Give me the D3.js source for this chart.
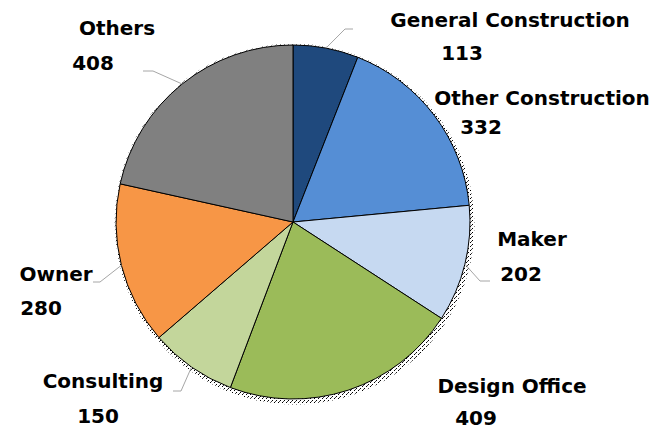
<!DOCTYPE html>
<html lang="en">
<head>
    <meta charset="UTF-8">
    <title>Pie</title>
    <style>
        body { margin: 0; padding: 0; background: #fff; }
        svg { display: block; }
        .lbl { font-family: "DejaVu Sans", Verdana, sans-serif; font-weight: bold; font-size: 20px; fill: #000; }
    </style>
</head>
<body>
    <svg id="chart"></svg>
    <script src="https://d3js.org/d3.v7.min.js"></script>
    <script>
        // data
        const categories = ['General Construction', 'Other Construction', 'Maker', 'Design Office', 'Consulting', 'Owner', 'Others'];
        const counts = [113, 332, 202, 409, 150, 280, 408];
        const colors = ['#1F497D', '#558ED5', '#C6D9F1', '#9BBB59', '#C3D69B', '#F79646', '#808080'];

        // label layout: [name x, name y, value x, value y], elbow points of leader lines
        const labelPos = [
            [510, 27, 462, 60],
            [542, 105, 481, 134],
            [532, 246, 521, 281],
            [512, 393, 476, 425],
            [103, 388, 98, 423],
            [56, 281, 41, 315],
            [117, 35, 93, 70]
        ];
        const leaderElbow = [
            [[345, 29], [353, 29]],
            null,
            [[480, 281], [490, 281]],
            null,
            [[181, 391], [173, 391]],
            [[100, 282], [93, 282]],
            [[153, 71], [143, 71]]
        ];

        const width = 666, height = 429;
        const cx = 293, cy = 222, r = 177;

        const svg = d3.select('#chart').attr('width', width).attr('height', height);

        // stippled shadow
        const defs = svg.append('defs');
        const pat = defs.append('pattern').attr('id', 'dots')
            .attr('width', 4).attr('height', 4).attr('patternUnits', 'userSpaceOnUse');
        pat.append('rect').attr('x', 0).attr('y', 0).attr('width', 1).attr('height', 1).attr('fill', '#000');
        pat.append('rect').attr('x', 2).attr('y', 2).attr('width', 1).attr('height', 1).attr('fill', '#000');
        pat.append('rect').attr('x', 3).attr('y', 1).attr('width', 1).attr('height', 1).attr('fill', '#444');

        svg.append('circle').attr('cx', cx + 2).attr('cy', cy + 3).attr('r', r + 2.5)
            .attr('fill', 'url(#dots)');
        svg.append('circle').attr('cx', cx).attr('cy', cy).attr('r', r + 1.5)
            .attr('fill', 'url(#dots)').attr('opacity', 0.5);

        const pie = d3.pie().sort(null).value(d => d);
        const arcs = pie(counts);
        const arc = d3.arc().innerRadius(0).outerRadius(r);

        const g = svg.append('g').attr('transform', `translate(${cx},${cy})`);
        g.selectAll('path')
            .data(arcs)
            .enter()
            .append('path')
            .attr('d', arc)
            .attr('fill', (d, i) => colors[i])
            .attr('stroke', '#000')
            .attr('stroke-width', 1);

        // leader lines from the slice edge
        arcs.forEach((d, i) => {
            if (!leaderElbow[i]) return;
            const a = (d.startAngle + d.endAngle) / 2;
            const p0 = [cx + r * Math.sin(a), cy - r * Math.cos(a)];
            svg.append('path')
                .attr('d', d3.line()([p0].concat(leaderElbow[i])))
                .attr('fill', 'none')
                .attr('stroke', '#A6A6A6')
                .attr('stroke-width', 1);
        });

        // labels
        categories.forEach((c, i) => {
            const p = labelPos[i];
            svg.append('text').attr('class', 'lbl')
                .attr('x', p[0]).attr('y', p[1]).attr('text-anchor', 'middle')
                .text(c);
            svg.append('text').attr('class', 'lbl')
                .attr('x', p[2]).attr('y', p[3]).attr('text-anchor', 'middle')
                .text(counts[i]);
        });
    </script>
</body>
</html>
